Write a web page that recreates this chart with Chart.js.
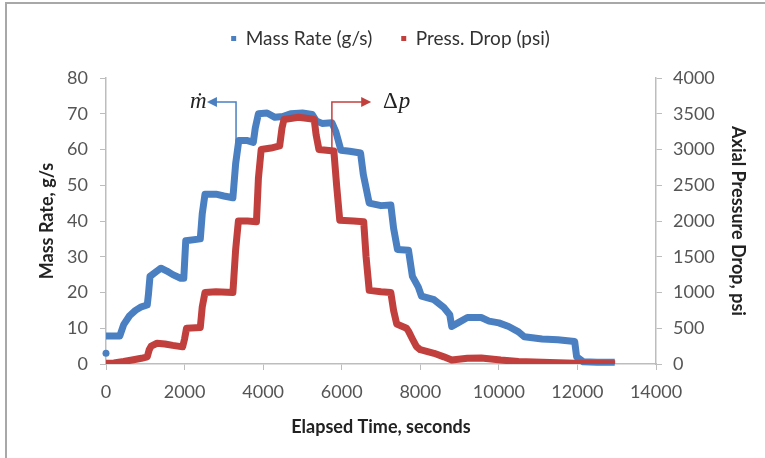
<!DOCTYPE html>
<html>
<head>
<meta charset="utf-8">
<script src="https://cdn.jsdelivr.net/npm/chart.js@4.4.1/dist/chart.umd.min.js"></script>
<style>
  body { margin: 0; background: #fff; }
  #wrap { position: relative; width: 765px; height: 458px; }
  #frame { position: absolute; left: 5px; top: 2px; right: 0; bottom: 0;
           border-top: 2px solid #a8a8a8; border-left: 2px solid #a8a8a8; pointer-events: none; }
</style>
</head>
<body>
<div id="wrap">
  <canvas id="chart" width="765" height="458"></canvas>
  <div id="frame"></div>
</div>
<script>
// 질량 유량 (g/s) - 경과 시간(초)
var massTime = [0, 60,
  0, 350, 450, 600, 750, 900, 1050, 1080, 1120, 1300, 1400, 1550, 1700, 1900, 1980, 2030,
  2400, 2450, 2520, 2800, 3000, 3230, 3300, 3380, 3600, 3750, 3800, 3880, 4100, 4300, 4500,
  4700, 5000, 5250, 5350, 5500, 5750, 5850, 5980, 6200, 6480, 6550, 6700, 7000, 7250, 7320,
  7420, 7700, 7800, 7950, 8030, 8350, 8600, 8750, 8800, 8960, 9200, 9550, 9750, 10000, 10250,
  10500, 10650, 11100, 11500, 11930, 11980, 12150, 12500, 12950];
var massRate = [3.0, null,
  7.8, 7.8, 11.0, 13.5, 15.0, 16.0, 16.5, 19.5, 24.5, 26.0, 26.8, 26.0, 25.0, 24.0, 24.0, 34.5,
  35.0, 42.0, 47.5, 47.5, 47.0, 46.5, 56.0, 62.5, 62.5, 62.0, 66.0, 70.0, 70.2, 69.0, 69.2,
  70.0, 70.2, 69.8, 68.0, 67.3, 67.5, 65.0, 59.8, 59.5, 59.0, 53.0, 45.0, 44.3, 44.5, 38.0,
  32.0, 31.8, 24.5, 21.5, 19.0, 18.0, 15.8, 13.8, 10.5, 11.5, 13.0, 13.0, 12.0, 11.5, 10.5,
  9.0, 7.6, 7.0, 6.8, 6.3, 2.0, 0.6, 0.5, 0.5];

// 축방향 압력 강하 (psi)
var dropTime = [0, 200, 450, 700, 900, 1050, 1100, 1150, 1300, 1500, 1700, 1950, 2000, 2050,
  2400, 2450, 2520, 2800, 3230, 3300, 3370, 3600, 3830, 3880, 3950, 4200, 4420, 4480, 4530,
  4900, 5200, 5300, 5350, 5420, 5800, 5870, 5950, 6300, 6560, 6620, 6700, 7000, 7250, 7320,
  7400, 7650, 7700, 7800, 7900, 8000, 8350, 8600, 8800, 9200, 9550, 10050, 10500, 11300,
  11950, 12960];
var dropPsi = [10, 15, 35, 60, 80, 100, 200, 250, 290, 280, 260, 240, 350, 500,
  510, 800, 1000, 1010, 1000, 1600, 2000, 2000, 1990, 2600, 3000, 3020, 3050, 3300, 3420,
  3450, 3430, 3420, 3200, 3000, 2980, 2500, 2010, 2000, 1990, 1500, 1030, 1010, 1000, 750,
  560, 500, 460, 350, 245, 200, 150, 100, 55, 80, 85, 55, 35, 20,
  10, 5];

var xTicks = [0, 2000, 4000, 6000, 8000, 10000, 12000, 14000];
var leftTicks = [0, 10, 20, 30, 40, 50, 60, 70, 80];
var rightTicks = [0, 500, 1000, 1500, 2000, 2500, 3000, 3500, 4000];

var blue = '#4a7fc1';
var red = '#c1403d';

function toPoints(xs, ys) {
  return xs.map(function (x, i) { return { x: x, y: ys[i] }; });
}

// 화살표 주석 (ṁ, Δp)
var arrowPlugin = {
  id: 'arrows',
  afterDatasetsDraw: function (chart) {
    var ctx = chart.ctx;
    var xs = chart.scales.x, yl = chart.scales.y, yr = chart.scales.y1;
    var top = yl.getPixelForValue(73.3);

    function arrow(color, x0, yBottom, x1) {
      ctx.save();
      ctx.strokeStyle = color;
      ctx.fillStyle = color;
      ctx.lineWidth = 1.5;
      ctx.beginPath();
      ctx.moveTo(x0, yBottom);
      ctx.lineTo(x0, top);
      ctx.lineTo(x1, top);
      ctx.stroke();
      var dir = x1 < x0 ? -1 : 1;
      ctx.beginPath();
      ctx.moveTo(x1 + dir * 2, top);
      ctx.lineTo(x1 - dir * 8, top - 5);
      ctx.lineTo(x1 - dir * 8, top + 5);
      ctx.closePath();
      ctx.fill();
      ctx.restore();
    }

    arrow(blue, xs.getPixelForValue(3310), yl.getPixelForValue(62), xs.getPixelForValue(2620));
    arrow(red, xs.getPixelForValue(5750), yr.getPixelForValue(3000), xs.getPixelForValue(6700));

    ctx.save();
    ctx.fillStyle = '#222';
    ctx.textBaseline = 'middle';
    ctx.font = 'italic 23px "Liberation Serif"';
    ctx.textAlign = 'right';
    ctx.fillText('\u1E41', xs.getPixelForValue(2560), top);
    ctx.textAlign = 'left';
    var tx = xs.getPixelForValue(7050);
    ctx.font = '23px "Liberation Serif"';
    ctx.fillText('\u0394', tx, top);
    var w = ctx.measureText('\u0394').width;
    ctx.font = 'italic 23px "Liberation Serif"';
    ctx.fillText('p', tx + w + 1, top);
    ctx.restore();
  }
};

// 범례 높이 고정
var legendHeight = {
  id: 'legendHeight',
  beforeInit: function (chart) {
    var orig = chart.legend.fit;
    chart.legend.fit = function () {
      orig.bind(chart.legend)();
      this.height = 78;
    };
  }
};

var tickFont = { family: 'Lato', size: 18 };
var titleFont = { family: 'Lato', size: 18, weight: 'bold' };
var plain = function (v) { return String(v); };

new Chart(document.getElementById('chart'), {
  type: 'line',
  data: {
    datasets: [{
      label: 'Mass Rate (g/s)',
      data: toPoints(massTime, massRate),
      borderColor: blue,
      backgroundColor: blue,
      borderWidth: 7,
      borderJoinStyle: 'round',
      pointRadius: function (c) { return c.dataIndex === 0 ? 3.5 : 0; },
      pointBorderWidth: 0,
      spanGaps: false,
      clip: 8,
      yAxisID: 'y',
      order: 1
    }, {
      label: 'Press. Drop (psi)',
      data: toPoints(dropTime, dropPsi),
      borderColor: red,
      backgroundColor: red,
      borderWidth: 7,
      borderJoinStyle: 'round',
      pointRadius: 0,
      yAxisID: 'y1',
      order: 0
    }]
  },
  options: {
    responsive: false,
    animation: false,
    layout: { padding: { left: 26, right: 10, top: 0, bottom: 16 } },
    plugins: {
      legend: {
        position: 'top',
        labels: {
          usePointStyle: true,
          boxWidth: 5,
          boxHeight: 5,
          padding: 29,
          color: '#333',
          font: { family: 'Lato', size: 19 },
          generateLabels: function (chart) {
            return chart.data.datasets.map(function (ds, i) {
              return {
                text: ds.label,
                fillStyle: ds.borderColor,
                strokeStyle: ds.borderColor,
                lineWidth: 0,
                pointStyle: 'rect',
                fontColor: '#333',
                hidden: false,
                datasetIndex: i
              };
            });
          }
        }
      },
      tooltip: { enabled: false }
    },
    scales: {
      x: {
        type: 'linear',
        min: 0, max: 14000,
        afterBuildTicks: function (s) { s.ticks = xTicks.map(function (v) { return { value: v }; }); },
        afterFit: function (s) { s.height = 458 - 16 - 364; },
        ticks: { color: '#555', font: tickFont, padding: 11, callback: plain },
        grid: { drawOnChartArea: false, color: '#bdbdbd', tickLength: 6 },
        border: { color: '#bdbdbd', width: 1.5 },
        title: { display: true, text: 'Elapsed Time, seconds', color: '#222', font: titleFont, padding: { top: 0, bottom: 4 } }
      },
      y: {
        position: 'left',
        min: 0, max: 80,
        afterBuildTicks: function (s) { s.ticks = leftTicks.map(function (v) { return { value: v }; }); },
        afterFit: function (s) { s.width = 106 - 26; },
        ticks: { color: '#555', font: tickFont, padding: 12, callback: plain },
        grid: { drawOnChartArea: false, color: '#bdbdbd', tickLength: 6 },
        border: { color: '#bdbdbd', width: 1.5 },
        title: { display: true, text: 'Mass Rate, g/s', color: '#222', font: titleFont, padding: { top: 10, bottom: 0 } }
      },
      y1: {
        position: 'right',
        min: 0, max: 4000,
        afterBuildTicks: function (s) { s.ticks = rightTicks.map(function (v) { return { value: v }; }); },
        afterFit: function (s) { s.width = 765 - 10 - 656; },
        ticks: { color: '#555', font: tickFont, padding: 11, callback: plain },
        grid: { drawOnChartArea: false, color: '#bdbdbd', tickLength: 6 },
        border: { color: '#bdbdbd', width: 1.5 },
        title: { display: true, text: 'Axial Pressure Drop, psi', color: '#222', font: titleFont, padding: { top: 6, bottom: 0 } }
      }
    }
  },
  plugins: [arrowPlugin, legendHeight]
});
</script>
</body>
</html>
